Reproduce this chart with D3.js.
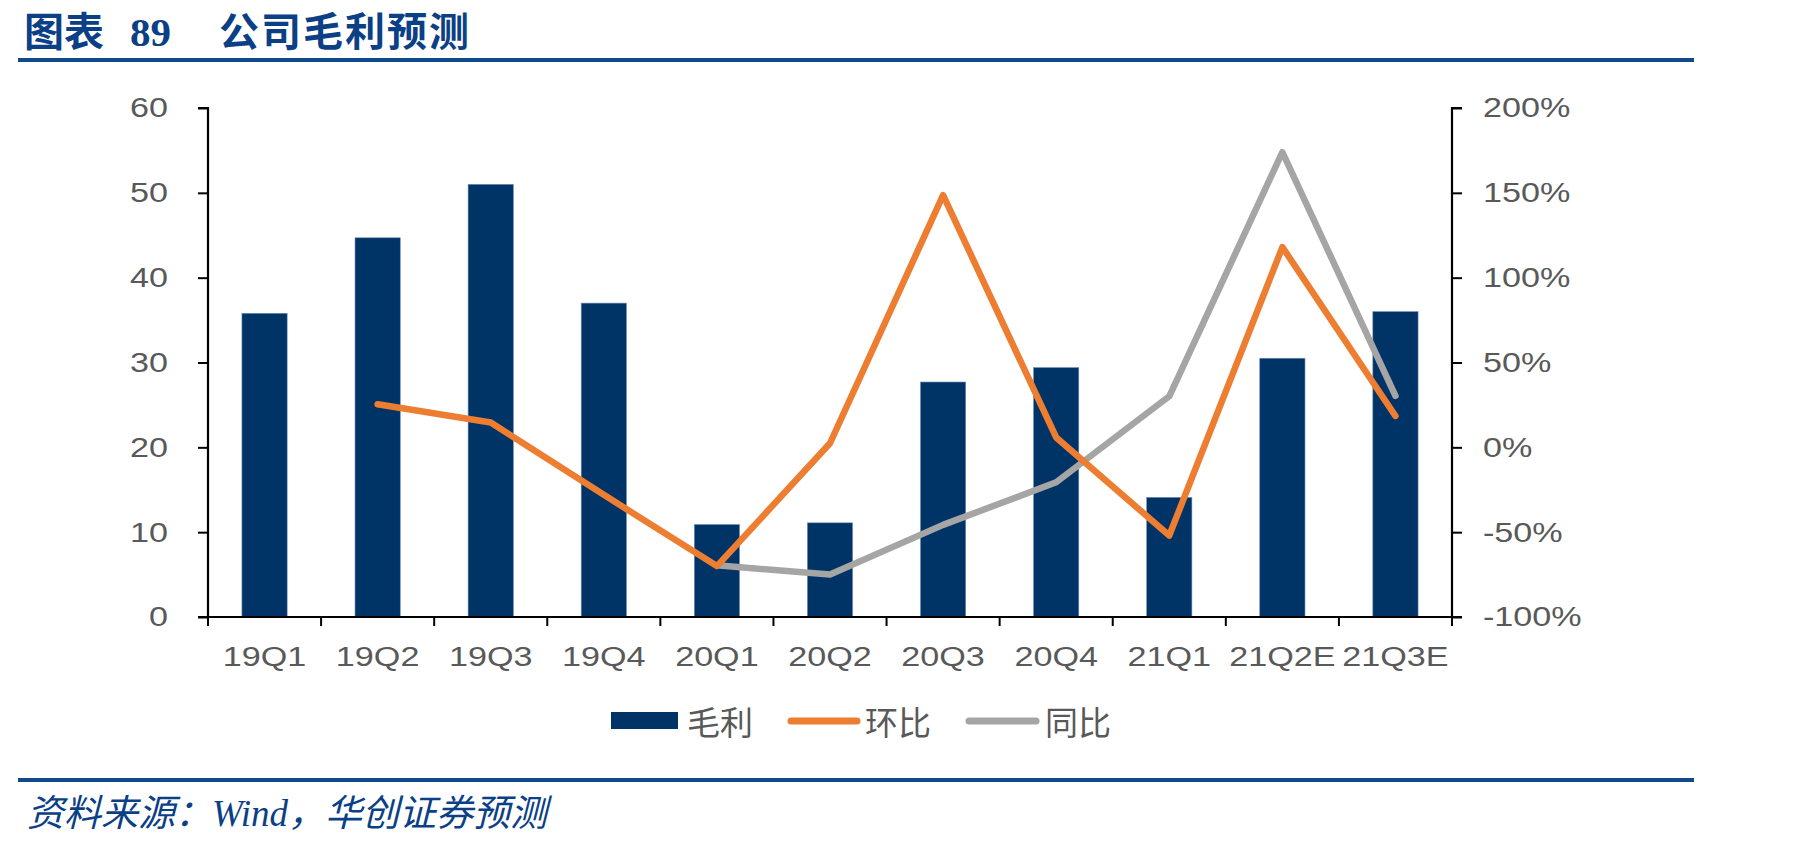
<!DOCTYPE html>
<html><head><meta charset="utf-8">
<script src="https://cdn.jsdelivr.net/npm/d3@7"></script>
<style>
html,body{margin:0;padding:0;background:#fff;}
svg{display:block;}
</style></head>
<body>
<svg id="chart" width="1801" height="848"></svg>
<script>
const categories = ["19Q1","19Q2","19Q3","19Q4","20Q1","20Q2","20Q3","20Q4","21Q1","21Q2E","21Q3E"];
const grossProfit = [35.8, 44.7, 51.0, 37.0, 10.9, 11.1, 27.7, 29.4, 14.1, 30.5, 36.0];
const qoq = [null, 25.4, 14.6, -28, -70, 2.4, 148.6, 5.8, -52, 118, 18.5];
const yoy = [null, null, null, null, -69.5, -75, -45.7, -20.6, 30.1, 174, 30.3];
const leftTicks = [0,10,20,30,40,50,60];
const rightTicks = [-100,-50,0,50,100,150,200];
const titleParts = ["图表", "89", "公司毛利预测"];
const sourceParts = ["资料来源：", "Wind", "，华创证券预测"];
const seriesNames = ["毛利","环比","同比"];

const svg = d3.select("#chart");
const X0 = 208, X1 = 1452, Y0 = 617, Y1 = 108;
const barColor = "#003366", orange = "#ED7D31", gray = "#A5A5A5", textGray = "#595959", blue = "#0B3F86";
const cjk = "'Noto Sans CJK SC'";
const serif = "'Liberation Serif', 'Times New Roman', serif";

// title
const t = svg.append("text").attr("y",46).attr("fill",blue).attr("font-weight","bold");
t.append("tspan").attr("x",24).attr("font-family",cjk).attr("font-size",40).text(titleParts[0]);
t.append("tspan").attr("x",130).attr("font-family",serif).attr("font-size",41).text(titleParts[1]);
t.append("tspan").attr("x",219).attr("font-family",cjk).attr("font-size",40).attr("letter-spacing",2).text(titleParts[2]);
svg.append("rect").attr("x",18).attr("y",58).attr("width",1676).attr("height",4).attr("fill","#0E4A8C");
svg.append("rect").attr("x",18).attr("y",778).attr("width",1676).attr("height",4).attr("fill","#0E4A8C");
const s = svg.append("text").attr("y",826).attr("fill",blue).attr("font-style","italic").attr("font-size",37);
s.append("tspan").attr("x",27).attr("font-family",cjk).text(sourceParts[0]);
s.append("tspan").attr("font-family",serif).text(sourceParts[1]);
s.append("tspan").attr("font-family",cjk).text(sourceParts[2]);

const xCat = d3.scaleBand().domain(categories).range([X0,X1]).padding(0);
const xBar = d3.scaleBand().domain(categories).range([X0,X1]).paddingInner(0.6).paddingOuter(0.3);
const yL = d3.scaleLinear().domain([0,60]).range([Y0,Y1]);
const yR = d3.scaleLinear().domain([-100,200]).range([Y0,Y1]);

// bars
svg.append("g").selectAll("rect").data(categories).join("rect")
  .attr("x",d=>xBar(d)).attr("width",xBar.bandwidth())
  .attr("y",(d,i)=>yL(grossProfit[i])).attr("height",(d,i)=>Y0-yL(grossProfit[i]))
  .attr("fill",barColor).attr("stroke","#6F8FB5").attr("stroke-width",0.6);

// axes
const fontAx = "'Liberation Sans', Arial, sans-serif";
const SX = 1.22;
const gL = svg.append("g").attr("transform",`translate(${X0},0)`)
  .call(d3.axisLeft(yL).tickValues(leftTicks).tickSize(10).tickPadding(30));
const gR = svg.append("g").attr("transform",`translate(${X1},0)`)
  .call(d3.axisRight(yR).tickValues(rightTicks).tickSize(10).tickPadding(21).tickFormat(d=>d+"%"));
const gX = svg.append("g").attr("transform",`translate(0,${Y0})`)
  .call(d3.axisBottom(xCat).tickSize(0).tickPadding(29));
const bounds = categories.map(c=>xCat(c)).concat([X1]);
gX.selectAll("line.bt").data(bounds).join("line").attr("class","bt")
  .attr("x1",d=>d).attr("x2",d=>d).attr("y1",0).attr("y2",9)
  .attr("stroke","#000").attr("stroke-width",2);

[gL,gR,gX].forEach(g=>{
  g.select(".domain").attr("stroke","#000").attr("stroke-width",2.2);
  g.selectAll(".tick line").attr("stroke","#000").attr("stroke-width",2);
  g.selectAll(".tick text").attr("font-family",fontAx).attr("font-size",28).attr("fill",textGray)
    .each(function(){
      const el = d3.select(this);
      const x = +el.attr("x") || 0;
      el.attr("x", x/SX).attr("transform",`scale(${SX},1)`);
    });
});
gX.select(".domain").attr("d",`M${X0-10},0H${X1+10}`);
gL.select(".domain").attr("d",`M-10,${Y1}H0V${Y0}`);
gR.select(".domain").attr("d",`M10,${Y1}H0V${Y0}`);

// lines
const lineGen = y => d3.line().defined(d=>d.v!==null)
  .x(d=>xCat(d.c)+xCat.bandwidth()/2).y(d=>y(d.v));
const qoqData = categories.map((c,i)=>({c, v:qoq[i]}));
const yoyData = categories.map((c,i)=>({c, v:yoy[i]}));
svg.append("path").datum(yoyData).attr("d",lineGen(yR)).attr("fill","none")
  .attr("stroke",gray).attr("stroke-width",6.5).attr("stroke-linejoin","round").attr("stroke-linecap","round");
svg.append("path").datum(qoqData).attr("d",lineGen(yR)).attr("fill","none")
  .attr("stroke",orange).attr("stroke-width",6.5).attr("stroke-linejoin","round").attr("stroke-linecap","round");

// legend
const lg = svg.append("g");
lg.append("rect").attr("x",611).attr("y",712).attr("width",67).attr("height",17).attr("fill",barColor);
lg.append("line").attr("x1",791).attr("x2",857).attr("y1",721).attr("y2",721)
  .attr("stroke",orange).attr("stroke-width",7).attr("stroke-linecap","round");
lg.append("line").attr("x1",969).attr("x2",1036).attr("y1",721).attr("y2",721)
  .attr("stroke",gray).attr("stroke-width",7).attr("stroke-linecap","round");
const lx = [687, 865, 1045];
lg.selectAll("text").data(seriesNames).join("text")
  .attr("x",(d,i)=>lx[i]).attr("y",735)
  .attr("font-family",cjk).attr("font-size",33).attr("fill",textGray).text(d=>d);
</script>
</body></html>
